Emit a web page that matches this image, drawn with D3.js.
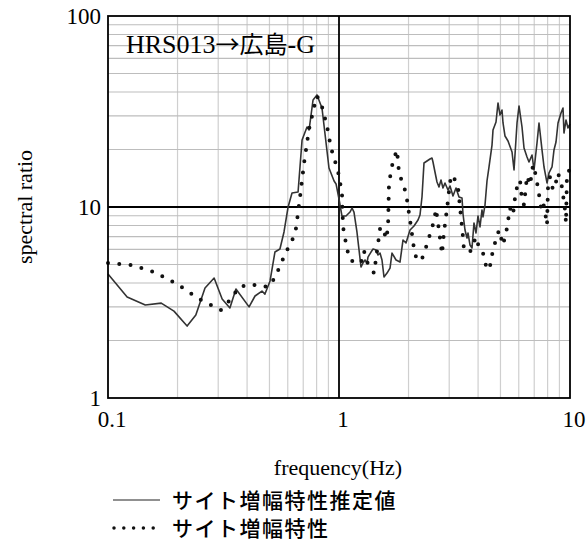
<!DOCTYPE html>
<html lang="ja">
<head>
    <meta charset="UTF-8">
    <title>HRS013→広島-G spectral ratio</title>
    <script src="https://d3js.org/d3.v7.min.js"></script>
    <style>
        body {
            margin: 0;
            padding: 0;
            background: #fff;
        }
        svg text.serif {
            font-family: "Liberation Serif", "Times New Roman", "Noto Sans CJK JP", serif;
            fill: #000;
        }
        svg text.jp, svg tspan.jp {
            font-family: "Noto Sans CJK JP", sans-serif;
            fill: #000;
        }
    </style>
</head>
<body>
    <svg id="chart"></svg>

    <script>
        // Estimated site amplification (solid line)
        const solidFreq = [0.100, 0.121, 0.145, 0.170, 0.193, 0.220, 0.240, 0.263, 0.288, 0.312,
            0.337, 0.358, 0.408, 0.433, 0.464, 0.478, 0.503, 0.528, 0.555, 0.578,
            0.602, 0.626, 0.665, 0.692, 0.727, 0.742, 0.772, 0.803, 0.844, 0.905,
            0.952, 0.971, 1.00, 1.03, 1.072, 1.116, 1.139, 1.161, 1.196, 1.221,
            1.245, 1.270, 1.296, 1.322, 1.335, 1.376, 1.404, 1.446, 1.475, 1.505,
            1.535, 1.566, 1.614, 1.663, 1.696, 1.766, 1.837, 1.893, 1.950, 2.030,
            2.112, 2.198, 2.242, 2.287, 2.333, 2.404, 2.477, 2.527, 2.552, 2.603,
            2.656, 2.709, 2.764, 2.819, 2.876, 2.964, 3.024, 3.115, 3.210, 3.307,
            3.408, 3.442, 3.511, 3.582, 3.618, 3.691, 3.765, 3.840, 3.918, 3.997,
            4.077, 4.159, 4.201, 4.286, 4.372, 4.461, 4.596, 4.642, 4.783, 4.879,
            4.977, 5.077, 5.129, 5.232, 5.391, 5.611, 5.724, 5.898, 6.015, 6.198,
            6.323, 6.515, 6.646, 6.848, 6.986, 7.197, 7.342, 7.565, 7.718, 7.952,
            8.112, 8.359, 8.526, 8.698, 8.874, 9.142, 9.326, 9.419, 9.609, 9.802,
            10.0];
        const solidRatio = [4.46, 3.38, 3.07, 3.14, 2.85, 2.38, 2.72, 3.77, 4.25, 3.30,
            2.96, 3.72, 3.00, 3.42, 3.63, 3.50, 4.10, 5.81, 6.03, 7.40,
            10.0, 11.84, 11.98, 22.43, 26.23, 25.30, 36.33, 38.6, 32.98, 16.0,
            13.68, 13.20, 11.01, 8.97, 8.97, 9.41, 9.88, 9.41, 7.40, 5.96,
            4.85, 5.09, 5.28, 5.09, 5.47, 5.81, 6.03, 5.96, 5.61, 5.74,
            5.28, 4.30, 4.51, 4.79, 5.74, 5.28, 5.15, 6.72, 6.48, 7.58,
            7.95, 8.55, 9.08, 11.28, 17.00, 17.41, 17.84, 18.05, 17.20, 15.25,
            13.52, 12.73, 13.85, 12.57, 13.36, 12.27, 12.88, 11.42, 12.57, 11.28,
            11.15, 9.19, 7.58, 6.88, 7.31, 6.32, 6.10, 8.25, 7.31, 8.97,
            7.86, 9.65, 8.87, 10.24, 13.68, 16.20, 21.11, 25.30, 27.86, 35.04,
            30.31, 32.20, 27.54, 23.53, 22.16, 19.41, 15.62, 27.54, 33.80, 26.23,
            20.37, 18.27, 17.20, 18.72, 15.62, 21.63, 27.54, 19.89, 16.20, 13.36,
            15.07, 16.20, 19.89, 21.89, 27.54, 31.05, 32.98, 24.40, 28.55, 25.92,
            27.21];

        // Site amplification (dotted line)
        const dotFreq = [0.100, 0.127, 0.158, 0.199, 0.248, 0.308, 0.341, 0.369, 0.416, 0.464,
            0.503, 0.534, 0.590, 0.626, 0.652, 0.678, 0.706, 0.742, 0.780, 0.803,
            0.836, 0.887, 0.923, 0.990, 1.030, 1.041, 1.083, 1.116, 1.185, 1.245,
            1.283, 1.322, 1.418, 1.461, 1.505, 1.550, 1.598, 1.630, 1.646, 1.713,
            1.783, 1.819, 1.950, 2.050, 2.112, 2.176, 2.310, 2.428, 2.578, 2.630,
            2.709, 2.792, 2.848, 2.934, 3.024, 3.084, 3.146, 3.274, 3.374, 3.442,
            3.476, 3.691, 3.918, 4.077, 4.201, 4.372, 4.506, 4.596, 4.735, 4.928,
            5.129, 5.337, 5.498, 5.664, 5.779, 5.898, 6.075, 6.198, 6.323, 6.515,
            6.712, 6.917, 7.056, 7.271, 7.490, 7.642, 7.796, 7.952, 8.033, 8.193,
            8.444, 8.698, 8.874, 9.234, 9.515, 9.609, 9.706, 10.0];
        const dotRatio = [5.09, 4.97, 4.57, 3.95, 3.30, 2.89, 3.30, 3.81, 3.95, 3.81,
            3.86, 4.41, 5.81, 6.64, 7.76, 11.28, 17.0, 25.6, 33.4, 38.1,
            35.0, 26.6, 20.4, 15.4, 11.84, 7.86, 6.03, 5.28, 5.09, 5.09,
            5.88, 5.15, 4.51, 5.88, 7.67, 7.86, 6.80, 7.76, 13.36, 17.41,
            19.89, 15.07, 11.84, 7.86, 6.03, 5.22, 5.47, 6.64, 8.45, 9.76,
            7.58, 5.67, 7.40, 9.76, 13.52, 14.71, 14.19, 12.73, 8.87, 6.96,
            5.96, 5.81, 6.96, 5.88, 5.74, 4.68, 4.91, 5.61, 6.48, 7.58,
            6.32, 7.76, 9.88, 9.08, 11.15, 12.73, 13.85, 10.88, 10.24, 14.53,
            13.04, 16.60, 15.25, 12.57, 9.88, 10.62, 9.41, 8.05, 12.73, 14.36,
            12.27, 13.52, 15.07, 12.73, 9.65, 8.25, 15.25, 15.62];

        // Axis ticks and labels
        const xTicks = [0.1, 1, 10];
        const yTicks = [1, 10, 100];
        const xLabels = ["0.1", "1", "10"];
        const yLabels = ["1", "10", "100"];
        const chartTitle = "HRS013→広島-G";
        const xTitle = "frequency(Hz)";
        const yTitle = "spectral ratio";
        const legendNames = ["サイト増幅特性推定値", "サイト増幅特性"];

        const W = 587, H = 553;
        const plotLeft = 108, plotRight = 570, plotTop = 16, plotBottom = 398;

        const svg = d3.select("#chart")
            .attr("width", W)
            .attr("height", H);

        const x = d3.scaleLog().domain([0.1, 10]).range([plotLeft, plotRight]);
        const y = d3.scaleLog().domain([1, 100]).range([plotBottom, plotTop]);

        // minor grid values 2..9 in every decade
        const minorX = [];
        [0.1, 1].forEach(d => { for (let k = 2; k <= 9; k++) minorX.push(d * k); });
        const minorY = [];
        [1, 10].forEach(d => { for (let k = 2; k <= 9; k++) minorY.push(d * k); });

        const grid = svg.append("g");
        grid.selectAll(".vminor")
            .data(minorX)
            .enter().append("line")
            .attr("x1", d => x(d)).attr("x2", d => x(d))
            .attr("y1", plotTop).attr("y2", plotBottom)
            .attr("stroke", "#cfcfcf").attr("stroke-width", 1.2);
        grid.selectAll(".hminor")
            .data(minorY)
            .enter().append("line")
            .attr("y1", d => y(d)).attr("y2", d => y(d))
            .attr("x1", plotLeft).attr("x2", plotRight)
            .attr("stroke", "#bdbdbd").attr("stroke-width", 1.2);

        // major lines at decades
        grid.append("line")
            .attr("x1", x(1)).attr("x2", x(1)).attr("y1", plotTop).attr("y2", plotBottom)
            .attr("stroke", "#000").attr("stroke-width", 1.8);
        grid.append("line")
            .attr("y1", y(10)).attr("y2", y(10)).attr("x1", plotLeft).attr("x2", plotRight)
            .attr("stroke", "#000").attr("stroke-width", 1.8);

        // data lines
        const solidData = solidFreq.map((f, i) => [f, solidRatio[i]]);
        const dotData = dotFreq.map((f, i) => [f, dotRatio[i]]);
        const line = d3.line().x(d => x(d[0])).y(d => y(d[1]));

        svg.append("path")
            .datum(solidData)
            .attr("d", line)
            .attr("fill", "none")
            .attr("stroke", "#333")
            .attr("stroke-width", 1.6)
            .attr("stroke-linejoin", "round");

        svg.append("path")
            .datum(dotData)
            .attr("d", line)
            .attr("fill", "none")
            .attr("stroke", "#111")
            .attr("stroke-width", 4)
            .attr("stroke-linecap", "round")
            .attr("stroke-dasharray", "0 11.3");

        // frame
        svg.append("rect")
            .attr("x", plotLeft).attr("y", plotTop)
            .attr("width", plotRight - plotLeft).attr("height", plotBottom - plotTop)
            .attr("fill", "none").attr("stroke", "#000").attr("stroke-width", 1.8);

        // tick labels
        svg.selectAll(".xlab")
            .data(xTicks)
            .enter().append("text")
            .attr("class", "serif")
            .attr("x", d => x(d) + 4)
            .attr("y", 427)
            .attr("text-anchor", "middle")
            .attr("font-size", 23)
            .text((d, i) => xLabels[i]);

        svg.selectAll(".ylab")
            .data(yTicks)
            .enter().append("text")
            .attr("class", "serif")
            .attr("x", 101)
            .attr("y", d => y(d) + 8)
            .attr("text-anchor", "end")
            .attr("font-size", 23)
            .text((d, i) => yLabels[i]);

        // title: latin part in serif, arrow and kanji in the CJK face
        const title = svg.append("text")
            .attr("class", "serif")
            .attr("x", 126).attr("y", 53)
            .attr("font-size", 26);
        chartTitle.match(/[\x00-\x7f]+|[^\x00-\x7f]+/g).forEach(part => {
            const t = title.append("tspan").text(part);
            if (/[^\x00-\x7f]/.test(part)) t.attr("class", "jp").attr("font-size", 24);
        });

        svg.append("text")
            .attr("class", "serif")
            .attr("x", 338).attr("y", 475)
            .attr("text-anchor", "middle")
            .attr("font-size", 22)
            .text(xTitle);

        svg.append("text")
            .attr("class", "serif")
            .attr("transform", "translate(32,207) rotate(-90)")
            .attr("text-anchor", "middle")
            .attr("font-size", 22)
            .text(yTitle);

        // legend
        const legend = svg.append("g");
        legend.append("line")
            .attr("x1", 113).attr("x2", 160).attr("y1", 500).attr("y2", 500)
            .attr("stroke", "#222").attr("stroke-width", 1.2);
        legend.append("line")
            .attr("x1", 114).attr("x2", 160).attr("y1", 528).attr("y2", 528)
            .attr("stroke", "#111").attr("stroke-width", 3.5)
            .attr("stroke-linecap", "round")
            .attr("stroke-dasharray", "0 9.8");
        legend.selectAll(".legtext")
            .data(legendNames)
            .enter().append("text")
            .attr("class", "jp")
            .attr("x", 172)
            .attr("y", (d, i) => 508 + i * 28)
            .attr("font-size", 21)
            .attr("font-weight", 500)
            .attr("letter-spacing", 1.5)
            .text(d => d);
    </script>
</body>
</html>
